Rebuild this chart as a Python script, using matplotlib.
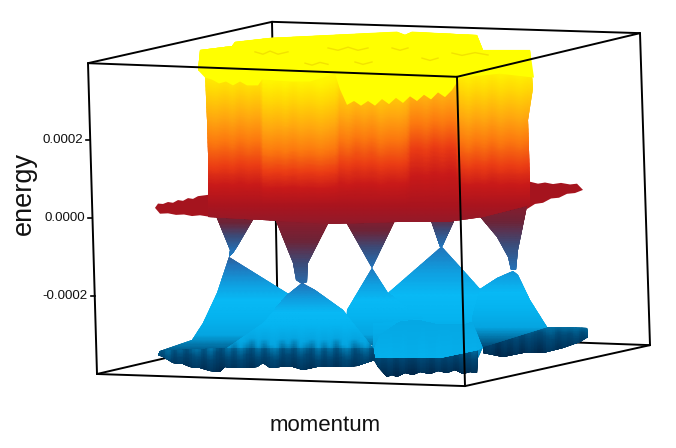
import numpy as np
import matplotlib
matplotlib.use('Agg')
import matplotlib.pyplot as plt
from matplotlib.colors import LinearSegmentedColormap, Normalize
from matplotlib.patches import Polygon

# energy in units of 1e-4, momentum is the horizontal position on the picture
tick_energy = [2, 0, -2]
tick_labels = ['0.0002', '0.0000', '-0.0002']

# colour against energy
cmap_energy = [-4.1, -3.5, -3.0, -2.5, -2.1, -1.7, -1.2, -0.8, -0.45, -0.05, 0.33, 0.85, 1.36, 2.0, 2.65, 3.3, 3.8, 4.4]
cmap_rgb = ['#00284b', '#004b78', '#05a5e1', '#05b4f0', '#08b9f5', '#0fa0e1', '#2373b9', '#3c4b78', '#6e2337',
            '#961928', '#aa141e', '#c81919', '#eb3c14', '#fc780f', '#ffaa0f', '#ffd705', '#fff500', '#ffff00']

# box corners
box_x = {'lt': 88, 'lb': 97, 'ft': 457, 'fb': 465, 'rt': 640, 'rb': 650, 'bt': 272, 'bb': 278}
box_e = {'lt': 3.97, 'lb': -4.0, 'ft': 3.62, 'fb': -4.31, 'rt': 4.74, 'rb': -3.26, 'bt': 5.03, 'bb': -2.92}

# lower band
m1_x = [229, 217, 203, 192, 160, 226, 300, 300, 287]
m1_e = [-1.00, -1.92, -2.69, -3.13, -3.40, -3.36, -3.36, -2.10, -1.92]
m2_x = [302, 287, 263, 227, 373, 343, 315]
m2_e = [-1.67, -1.97, -2.69, -3.33, -3.33, -2.36, -1.85]
base_x = [158, 163, 173, 183, 190, 200, 210, 220, 225, 233, 245, 257, 263, 270, 280, 293, 303, 317, 337, 357, 375, 373, 227, 160]
base_e = [-3.51, -3.56, -3.72, -3.74, -3.81, -3.85, -3.92, -3.95, -3.81, -3.85, -3.85, -3.81, -3.72, -3.85, -3.81, -3.81, -3.90, -3.81, -3.82, -3.79, -3.64, -3.33, -3.33, -3.40]
m3_x = [372, 347, 346, 373, 373, 423, 388]
m3_e = [-1.28, -2.36, -3.13, -3.26, -2.69, -2.56, -1.92]
m4_x = [441, 388, 370, 373, 477, 483, 480, 463, 442]
m4_e = [-0.74, -1.92, -2.36, -3.64, -3.64, -3.30, -1.82, -1.33, -0.74]
mid_x = [373, 380, 400, 417, 435, 463, 480, 483, 478, 440, 400, 373]
mid_e = [-3.40, -3.00, -2.67, -2.62, -2.72, -2.74, -2.62, -3.30, -3.38, -3.60, -3.60, -3.58]
front_x = [373, 378, 387, 392, 397, 405, 413, 420, 430, 438, 447, 455, 463, 470, 477, 478, 440, 400, 373]
front_e = [-3.58, -3.81, -4.07, -4.02, -4.07, -3.98, -4.03, -3.95, -4.00, -3.92, -3.97, -3.90, -4.00, -3.95, -3.97, -3.38, -3.60, -3.60, -3.58]
m5_base_x = [483, 503, 523, 543, 563, 580, 588, 587, 547, 483]
m5_base_e = [-3.46, -3.57, -3.45, -3.46, -3.33, -3.17, -3.04, -2.82, -2.79, -3.30]
m5_x = [513, 497, 480, 472, 483, 547, 530, 518]
m5_e = [-1.36, -1.54, -1.82, -2.60, -3.30, -2.79, -2.10, -1.46]
# spiky darker streaks near the foot of the lower band
foot_streak = [.3, -.2, .4, -.3, .2, -.4, .1, .3, -.3, .4, -.1, -.4, .3, -.2, .4, .0, -.4, .3, -.3, .2, .4, -.3, .1, -.4, .3,
               .0, -.3, .4, -.2, .3, -.4, .2, .4, -.3, .0, .3, -.4, .2, -.1, .4, -.3, .3, -.2, -.4, .3, .1, -.3, .4, -.2, .2,
               -.4, .3, -.1, .4, -.3, .1, .3, -.4, .2, -.2, .4, -.3, .3, .0, -.4, .2, .4, -.3, .1, -.2, .3, -.4, .2, .3]

# upper band, the funnels under the sheet
f1_x = [212, 230, 229, 233, 237, 261]
f1_e = [0.30, -0.82, -1.00, -0.90, -0.74, 0.30]
f2_x = [270, 293, 296, 302, 307, 308, 337]
f2_e = [0.30, -1.15, -1.59, -1.69, -1.63, -1.15, 0.30]
f3_x = [337, 372, 402]
f3_e = [0.30, -1.28, 0.30]
f4_x = [426, 440, 442, 461]
f4_e = [0.30, -0.74, -0.74, 0.30]
f5_x = [471, 497, 508, 511, 516, 518, 527]
f5_e = [0.30, -0.49, -1.00, -1.33, -1.33, -0.82, 0.30]

# flat sheet sticking out left and right of the wall
brim_l_x = [155, 158, 163, 168, 173, 178, 183, 188, 193, 198, 210, 210, 200, 192, 184, 176, 168, 160]
brim_l_e = [0.26, 0.37, 0.36, 0.41, 0.39, 0.46, 0.44, 0.51, 0.49, 0.56, 0.60, 0.03, 0.07, 0.05, 0.09, 0.08, 0.12, 0.11]
brim_r_x = [525, 530, 538, 545, 553, 561, 570, 577, 583, 575, 567, 559, 551, 543, 535, 527]
brim_r_e = [0.93, 0.93, 0.88, 0.91, 0.87, 0.90, 0.86, 0.88, 0.72, 0.64, 0.62, 0.52, 0.50, 0.39, 0.36, 0.23]

# wall and yellow top
wall_x = [200, 232, 235, 270, 397, 405, 412, 477, 483, 530, 533, 528, 530, 530, 483, 447, 397, 330, 263, 208, 208, 207, 205, 198]
wall_e = [4.31, 4.41, 4.52, 4.62, 4.78, 4.70, 4.78, 4.69, 4.31, 4.31, 3.33, 2.51, 0.97, 0.33, 0.03, -0.09, -0.09, -0.15, -0.05, 0.03, 1.67, 2.51, 3.72, 3.79]
streak_x = [196, 207, 215, 225, 232, 240, 248, 255, 260, 263, 270, 278, 285, 293, 300, 310, 320, 330, 336, 340, 348, 356, 364, 372, 380,
            390, 400, 407, 411, 418, 426, 434, 442, 450, 456, 460, 468, 476, 484, 492, 500, 510, 520, 528, 536]
streak_shift = [.05, .02, .08, -.02, .08, -.05, .05, -.02, .0, .28, .32, .25, .34, .22, .32, .25, .35, .25, .2, -.05, .05, -.1, .0, -.1, .05,
                -.05, .0, -.1, -.4, -.45, -.35, -.5, -.4, -.52, -.45, .0, .12, -.02, .1, -.05, .08, -.02, .08, .0, .0]
top_x = [200, 232, 235, 270, 397, 405, 412, 477, 483, 530, 534, 500, 460, 452, 445, 438, 431, 424, 417, 410, 403, 396, 389, 382, 375, 368,
         361, 354, 347, 340, 335, 310, 290, 262, 258, 247, 240, 233, 226, 219, 212, 205, 198]
top_e = [4.31, 4.41, 4.52, 4.62, 4.78, 4.70, 4.78, 4.69, 4.31, 4.31, 3.60, 3.70, 3.60, 3.28, 3.10, 3.22, 3.04, 3.16, 3.00, 3.12, 2.95, 3.08, 2.92, 3.05, 2.88, 3.00,
         2.88, 3.00, 2.90, 3.30, 3.70, 3.50, 3.50, 3.55, 3.40, 3.40, 3.50, 3.40, 3.50, 3.45, 3.55, 3.60, 3.79]
# duller marks on the yellow top
mark_x = [[255, 263, 270, 278, 288], [328, 338, 348, 358, 368], [305, 312, 320, 328], [392, 400, 408], [422, 430, 438], [355, 363, 372], [452, 462, 475, 488]]
mark_e = [[4.26, 4.20, 4.28, 4.20, 4.26], [4.36, 4.30, 4.38, 4.30, 4.36], [3.97, 3.92, 3.99, 3.94], [4.36, 4.30, 4.36], [4.10, 4.04, 4.10], [4.00, 3.94, 4.00], [4.23, 4.17, 4.24, 4.18]]

plt.rcParams['font.family'] = ['Liberation Sans', 'DejaVu Sans']

fig = plt.figure(figsize=(6.76, 4.48), dpi=100)
ax = fig.add_axes([0, 0, 1, 1])
ax.axis('off')

cmap_pos = (np.array(cmap_energy) - cmap_energy[0]) / (cmap_energy[-1] - cmap_energy[0])
cmap = LinearSegmentedColormap.from_list('bands', list(zip(cmap_pos, cmap_rgb)))
norm = Normalize(cmap_energy[0], cmap_energy[-1])

foot_x = np.linspace(156, 594, len(foot_streak))


def shaded(xs, es, shift=0.0, slope=1.0, z=3, streaks=0.0):
    poly = Polygon(np.column_stack([xs, es]), closed=True, fc='none', ec='none', zorder=z)
    ax.add_patch(poly)
    levels = np.linspace(min(es), max(es), 90)
    X, Y = np.meshgrid(foot_x, levels)
    C = shift + slope * Y + streaks * np.array(foot_streak) * np.clip((-2.7 - Y) / 0.5, 0, 1)
    mesh = ax.pcolormesh(X, Y, C, shading='gouraud', cmap=cmap, norm=norm, zorder=z)
    mesh.set_clip_path(poly)


def edge(a, b, z):
    ax.plot([box_x[a], box_x[b]], [box_e[a], box_e[b]], color='black', lw=1.4, zorder=z, solid_capstyle='round')


# back of the box
for a, b in [('lt', 'bt'), ('bt', 'rt'), ('bt', 'bb'), ('lb', 'bb'), ('bb', 'rb'), ('rt', 'rb')]:
    edge(a, b, 1)

shaded(m1_x, m1_e, z=3)
shaded(m4_x, m4_e, shift=-0.72, slope=0.7, z=4)
shaded(m3_x, m3_e, z=5)
shaded(m5_base_x, m5_base_e, shift=-0.5, z=5, streaks=0.4)
shaded(front_x, front_e, z=5, streaks=0.35)
shaded(mid_x, mid_e, shift=-3.686, slope=-0.3, z=6, streaks=0.15)
shaded(m5_x, m5_e, shift=-0.2, z=7)
shaded(base_x, base_e, z=8, streaks=0.4)
shaded(m2_x, m2_e, shift=0.8, slope=1.2, z=8, streaks=0.4)

shaded(f1_x, f1_e, shift=-0.35, z=9)
shaded(f2_x, f2_e, shift=-0.11, slope=0.6, z=9)
shaded(f3_x, f3_e, shift=-0.2, slope=0.8, z=9)
shaded(f4_x, f4_e, shift=-0.5, z=9)
shaded(f5_x, f5_e, shift=-0.4, slope=0.6, z=9)

ax.fill(brim_l_x, brim_l_e, color='#a5141e', lw=0, zorder=10)
ax.fill(brim_r_x, brim_r_e, color='#a5141e', lw=0, zorder=10)

# wall with its vertical streaks
wall_poly = Polygon(np.column_stack([wall_x, wall_e]), closed=True, fc='none', ec='none', zorder=11)
ax.add_patch(wall_poly)
wall_levels = np.linspace(-0.3, 5, 160)
X, Y = np.meshgrid(streak_x, wall_levels)
C = Y + np.array(streak_shift) * np.clip((Y - 0.3) / 1.5, 0, 1)
mesh = ax.pcolormesh(X, Y, C, shading='gouraud', cmap=cmap, norm=norm, zorder=11)
mesh.set_clip_path(wall_poly)
ax.fill(top_x, top_e, color='#ffff00', lw=0, zorder=12)
for mx, me in zip(mark_x, mark_e):
    ax.plot(mx, me, color='#f2e200', lw=1.0, zorder=13)

# front of the box
for a, b in [('lt', 'lb'), ('lt', 'ft'), ('ft', 'rt'), ('ft', 'fb'), ('lb', 'fb'), ('fb', 'rb')]:
    edge(a, b, 20)

# ticks sit on the tilted left edge
for e, lab in zip(tick_energy, tick_labels):
    x0 = np.interp(e, [box_e['lb'], box_e['lt']], [box_x['lb'], box_x['lt']])
    ax.plot([x0 - 4, x0], [e, e], color='black', lw=1.2, zorder=20)
    ax.text(x0 - 7.5, e, lab, ha='right', va='center', fontsize=9.6, color='#111111')

ax.text(24, 0.64, 'energy', rotation=90, ha='center', va='center', fontsize=19.5, color='#111111')
ax.text(325, -5.33, 'momentum', ha='center', va='center', fontsize=16, color='#111111')

ax.set_xlim(0, 676)
ax.set_ylim(-230 / 39, 218 / 39)
fig.savefig('out.png', dpi=100)
